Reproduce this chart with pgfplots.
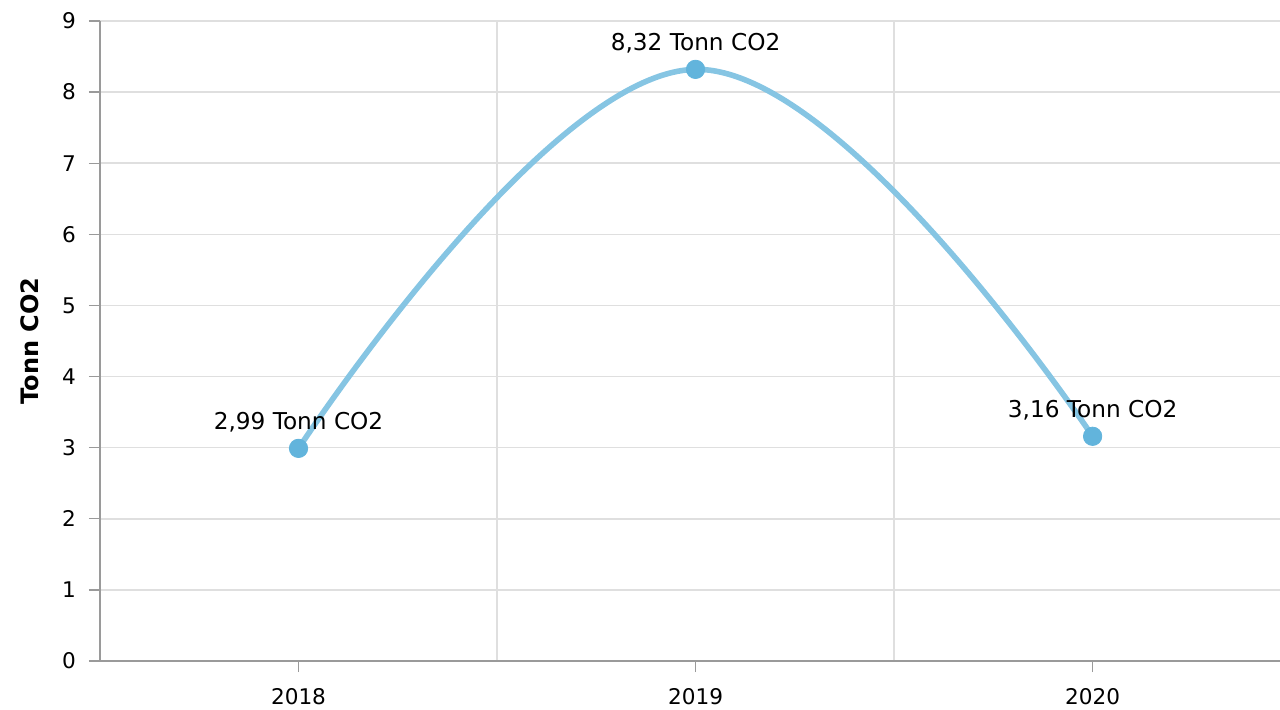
\documentclass[border=0pt]{standalone}
\usepackage{fontspec}
\setmainfont{DejaVu Sans}
\usepackage{pgfplots}
\pgfplotsset{compat=1.18}
\definecolor{linec}{HTML}{86C5E3}
\definecolor{markc}{HTML}{62B4DC}
\definecolor{gridc}{HTML}{DFDFDF}
\definecolor{axisc}{HTML}{9A9A9A}
\begin{document}
\begin{tikzpicture}
\useasboundingbox (-50pt,-24pt) rectangle (590pt,330.5pt);
\begin{axis}[
  at={(0,0)}, anchor=south west,
  scale only axis, width=590pt, height=320pt,
  xmin=-0.5, xmax=2.472, ymin=0, ymax=9,
  font=\fontsize{10.8}{13}\selectfont,
  /pgf/number format/assume math mode=true,
  axis lines=left, axis line style={axisc, line width=0.8pt, -},
  xtick={0,1,2}, xticklabels={2018,2019,2020},
  ytick={0,1,...,9},
  minor xtick={0.5,1.5},
  ymajorgrids, xminorgrids,
  major grid style={gridc, line width=0.75pt},
  minor grid style={gridc, line width=0.75pt},
  tick align=outside, major tick length=5.5pt, minor tick length=0pt,
  tick style={axisc, line width=0.7pt},
  yticklabel style={xshift=-3pt},
  xticklabel style={yshift=-4.5pt},
  ylabel={\fontsize{12}{14}\selectfont\bfseries Tonn CO2},
  ylabel style={at={(axis description cs:-0.0593,0.5)}, anchor=center},
  clip=false,
]
\addplot[linec, line width=2.8pt, smooth, tension=0.68] coordinates {(0,2.99) (1,8.32) (2,3.16)};
\addplot[only marks, mark=*, mark size=4.6pt, mark options={fill=markc, draw=markc},
  point meta=y,
  nodes near coords={\pgfmathprintnumber[fixed,fixed zerofill,precision=2,use comma]{\pgfplotspointmeta}~Tonn CO2},
  nodes near coords style={anchor=base, yshift=9.5pt, text=black, inner sep=0pt, font=\fontsize{11.6}{14}\selectfont}]
  coordinates {(0,2.99) (1,8.32) (2,3.16)};
\end{axis}
\end{tikzpicture}
\end{document}
